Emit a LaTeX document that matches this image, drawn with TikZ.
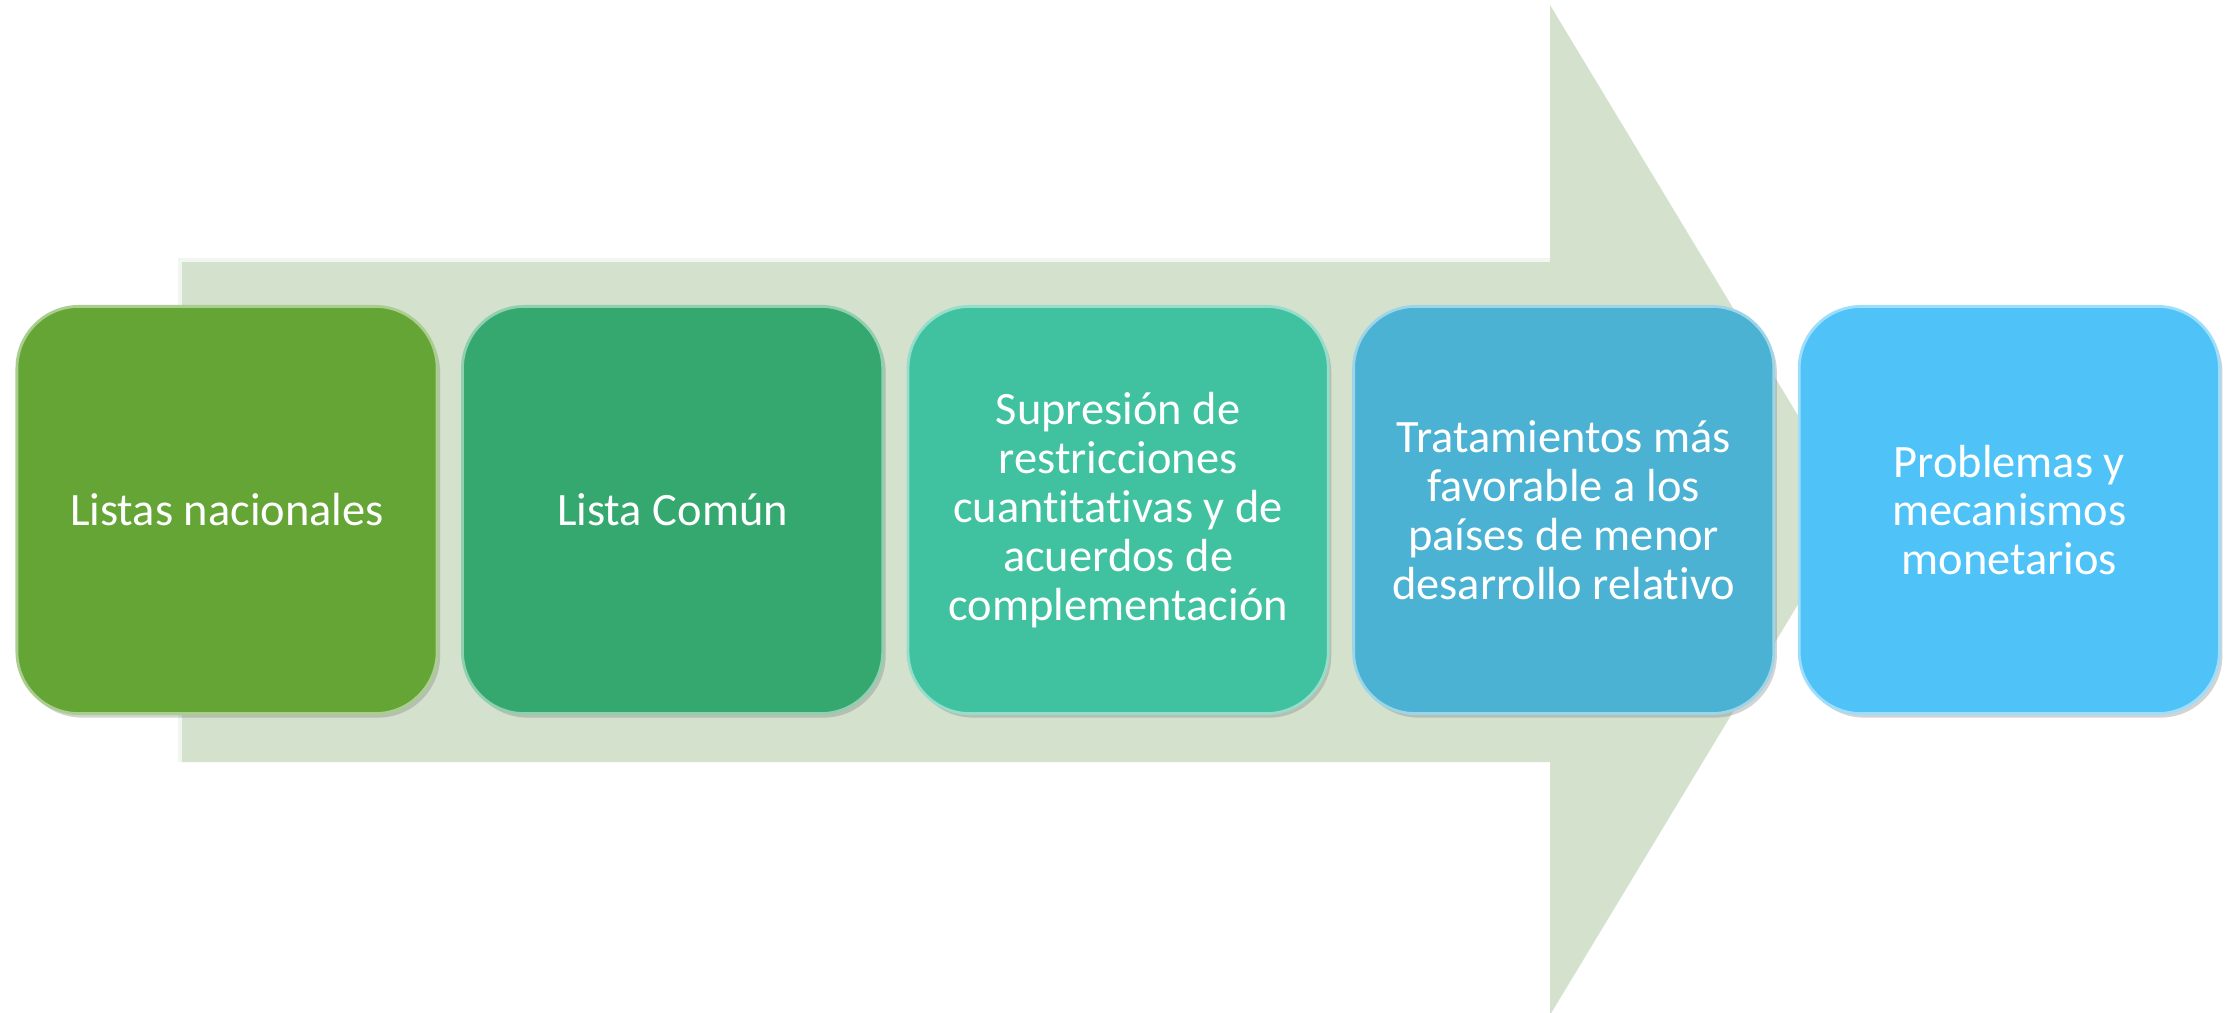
\documentclass[tikz,border=0pt]{standalone}
\usepackage{fontspec}
\setmainfont{Carlito}[Ligatures=NoCommon]
\usepackage{tikz}
\usetikzlibrary{positioning,shadows}
\definecolor{arrowgray}{HTML}{D4E1CD}
\definecolor{boxA}{HTML}{64A536}
\definecolor{boxB}{HTML}{35A86F}
\definecolor{boxC}{HTML}{40C2A0}
\definecolor{boxD}{HTML}{4BB2D3}
\definecolor{boxE}{HTML}{4FC3F8}

\begin{document}
\begin{tikzpicture}[
x=0.01cm, y=-0.01cm,
font=\fontsize{13.2}{13.9}\selectfont,
stage/.style={rectangle, rounded corners=0.62cm, minimum width=4.2cm, minimum height=4.07cm,
  text width=3.9cm, align=center, text=white, line width=0.8pt,
  execute at begin node={\spaceskip=0.23em\relax},
  drop shadow={opacity=0.35, shadow xshift=0.03cm, shadow yshift=-0.04cm}}
]
    % Bounding box
    \useasboundingbox (0,0) rectangle (2231,1013);

    % Draw big arrow
    \fill [draw=none, fill=arrowgray]
    (180,260) -- (1550,260) -- (1550,5) -- (1855,510) -- (1550,1015)
      -- (1550,762) -- (180,762) -- cycle;
    \draw [white!70!arrowgray, line width=1pt] (180,762) -- (180,260) -- (1550,260);

    % Stages
    \node[stage, fill=boxA, draw=boxA!55!white] (listas) at (227,510) {Listas nacionales};
    \node[stage, fill=boxB, draw=boxB!55!white, right=0.225cm of listas] (comun) {Lista Común};
    \node[stage, fill=boxC, draw=boxC!55!white, right=0.225cm of comun] (supresion)
      {Supresión de\\ restricciones\\ cuantitativas y de\\ acuerdos de\\ complementación};
    \node[stage, fill=boxD, draw=boxD!55!white, right=0.225cm of supresion] (trato)
      {Tratamientos más\\ favorable a los\\ países de menor\\ desarrollo relativo};
    \node[stage, fill=boxE, draw=boxE!55!white, right=0.225cm of trato] (monetarios)
      {Problemas y\\ mecanismos\\ monetarios};

\end{tikzpicture}
\end{document}
